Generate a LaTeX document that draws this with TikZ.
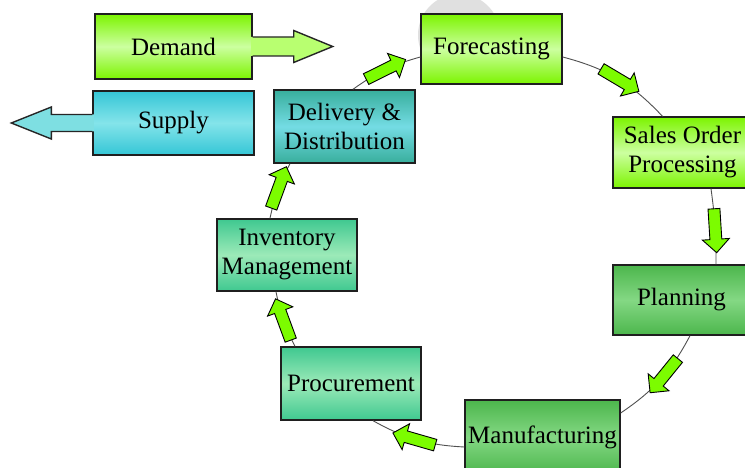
\documentclass[tikz,border=0pt]{standalone}
\usepackage{fontspec}
\setmainfont{Liberation Serif}
\usetikzlibrary{shapes.arrows,calc}

% fill colours
\definecolor{limeout}{HTML}{7CF400}
\definecolor{limein}{HTML}{CCFFA0}
\definecolor{leafout}{HTML}{4CB64C}
\definecolor{leafin}{HTML}{84D884}
\definecolor{mintout}{HTML}{3FC890}
\definecolor{mintin}{HTML}{9CEAB8}
\definecolor{tealout}{HTML}{38AE9C}
\definecolor{tealin}{HTML}{74DCE4}
\definecolor{cyanout}{HTML}{34C6D6}
\definecolor{cyanin}{HTML}{84E4EA}
\definecolor{flowgreen}{HTML}{7CFC00}
\definecolor{demandtip}{HTML}{B8FF70}
\definecolor{supplytip}{HTML}{7EDFE2}
\definecolor{linkgray}{HTML}{505050}

\tikzset{
  box/.style 2 args={draw=black!88, line width=1.4pt, inner sep=0pt,
    minimum width=#1, minimum height=#2, align=center,
    font=\fontsize{25}{29}\selectfont},
  lime/.style={top color=limeout, bottom color=limeout, middle color=limein},
  leaf/.style={top color=leafout, bottom color=leafout, middle color=leafin},
  mint/.style={top color=mintout, bottom color=mintout, middle color=mintin},
  teal/.style={top color=tealout, bottom color=tealout, middle color=tealin},
  cyanbox/.style={top color=cyanout, bottom color=cyanout, middle color=cyanin},
  link/.style={draw=linkgray, line width=0.9pt},
  flow/.style={sloped, allow upside down, single arrow, draw=black,
    line width=0.9pt, fill=flowgreen, inner xsep=0pt, inner ysep=5.5pt,
    minimum height=44pt, minimum width=0pt,
    single arrow head extend=7.5pt, single arrow head indent=0pt},
  bigarrow/.style={draw=black!85, line width=1.4pt, line join=miter}
}

\begin{document}
\begin{tikzpicture}[x=1pt, y=1pt]
  \useasboundingbox (0,0) rectangle (745,-468);
  \clip (0,0) rectangle (745,-468);
  \fill[white] (0,0) rectangle (745,-468);

  % faint disc behind the forecasting step
  \fill[black!12] (459,-35) circle[radius=41pt];

  % cycle steps
  \node[box={141pt}{70pt}, lime]    (fore)  at (491.5,-49)   {Forecasting};
  \node[box={139pt}{71pt}, lime]    (sales) at (682.5,-152.5) {Sales Order\\Processing};
  \node[box={137pt}{70pt}, leaf]    (plan)  at (681.5,-300)  {Planning};
  \node[box={155pt}{74pt}, leaf]    (manu)  at (542.5,-437)  {Manufacturing};
  \node[box={140pt}{73pt}, mint]    (proc)  at (351,-383.5)  {Procurement};
  \node[box={140pt}{72pt}, mint]    (inv)   at (287,-255)    {Inventory\\Management};
  \node[box={141pt}{73pt}, teal]    (deliv) at (344.5,-126.5) {Delivery \&\\Distribution};

  % demand and supply
  \node[box={157pt}{65pt}, lime]    (dem)   at (173.5,-46.5) {Demand};
  \node[box={161pt}{64pt}, cyanbox] (sup)   at (173.5,-123)  {Supply};

  % demand arrow, pointing right
  \fill[demandtip] ($(dem.east)+(-1.5,9.5)$) -- ++(42.5,0) -- ++(0,6.5)
      -- ($(dem.east)+(80,0)$) -- ($(dem.east)+(41,-16)$)
      -- ($(dem.east)+(41,-9.5)$) -- ($(dem.east)+(-1.5,-9.5)$) -- cycle;
  \draw[bigarrow] ($(dem.east)+(0,9.5)$) -- ($(dem.east)+(41,9.5)$)
      -- ($(dem.east)+(41,16)$) -- ($(dem.east)+(80,0)$)
      -- ($(dem.east)+(41,-16)$) -- ($(dem.east)+(41,-9.5)$)
      -- ($(dem.east)+(0,-9.5)$);

  % supply arrow, pointing left
  \fill[supplytip] ($(sup.west)+(1.5,8.5)$) -- ($(sup.west)+(-41,8.5)$)
      -- ($(sup.west)+(-41,16)$) -- ($(sup.west)+(-81,0)$)
      -- ($(sup.west)+(-41,-16)$) -- ($(sup.west)+(-41,-8.5)$)
      -- ($(sup.west)+(1.5,-8.5)$) -- cycle;
  \draw[bigarrow] ($(sup.west)+(0,8.5)$) -- ($(sup.west)+(-41,8.5)$)
      -- ($(sup.west)+(-41,16)$) -- ($(sup.west)+(-81,0)$)
      -- ($(sup.west)+(-41,-16)$) -- ($(sup.west)+(-41,-8.5)$)
      -- ($(sup.west)+(0,-8.5)$);

  % cycle connectors with block arrows
  \draw[link] ($(deliv.north)+(8.5,0)$) to[bend left=10]
      node[flow, pos=0.47] {} ($(fore.west)+(0,-8)$);
  \draw[link] ($(fore.east)+(0,-8)$) to[bend left=16]
      node[flow, pos=0.5] {} ($(sales.north)+(-20,0)$);
  \draw[link] ($(sales.south)+(28.5,0)$) to[bend left=4]
      node[flow, pos=0.52] {} ($(plan.north)+(34.5,0)$);
  \draw[link] ($(plan.south)+(8.5,0)$) to[bend left=14]
      node[flow, pos=0.42] {} ($(manu.east)+(0,24)$);
  \draw[link] ($(manu.west)+(0,-10)$) to[bend left=13]
      node[flow, pos=0.5] {} ($(proc.south)+(22,0)$);
  \draw[link] ($(proc.north)+(-56,0)$) to[bend left=8]
      node[flow, pos=0.45] {} ($(inv.south)+(-11,0)$);
  \draw[link] ($(inv.north)+(-17,0)$) to[bend left=8]
      node[flow, pos=0.5] {} ($(deliv.south)+(-54.5,0)$);
\end{tikzpicture}
\end{document}
